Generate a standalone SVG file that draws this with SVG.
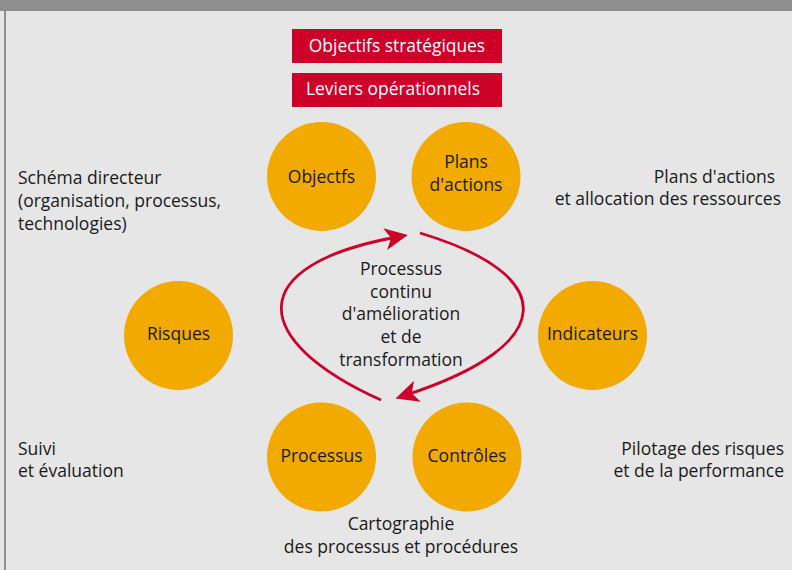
<svg xmlns="http://www.w3.org/2000/svg" width="792" height="570" viewBox="0 0 792 570">
  <style>
    .lbl { font-family: "Open Sans", "Noto Sans", sans-serif; font-size: 17.5px; fill: #1a1a1a; }
    .mid { text-anchor: middle; }
    .bar { fill: #cc0029; }
    .bar-t { font-family: "Open Sans", "Noto Sans", sans-serif; font-size: 17.4px; fill: #ffffff; text-anchor: middle; }
    .node { fill: #f2a900; }
    .loop { fill: none; stroke: #cc0029; stroke-width: 2.8; }
  </style>
  <defs>
    <marker id="head" markerUnits="userSpaceOnUse" markerWidth="24" markerHeight="22" viewBox="0 0 24 22" refX="12" refY="11" orient="auto">
      <path d="M0,0 L23,11 L0,22 L6,11 Z" fill="#cc0029"/>
    </marker>
  </defs>

  <!-- frame -->
  <rect x="0" y="0" width="792" height="570" fill="#e6e6e6"/>
  <rect x="0" y="0" width="792" height="11" fill="#8f8f8f"/>
  <rect x="4" y="0" width="2" height="570" fill="#8f8f8f"/>
  <rect x="0" y="0" width="4" height="11" fill="#8f8f8f"/>

  <!-- headers -->
  <g id="objectifs-strategiques">
    <rect class="bar" x="292" y="29" width="210" height="34"/>
    <text class="bar-t" x="397" y="52">Objectifs stratégiques</text>
  </g>
  <g id="leviers-operationnels">
    <rect class="bar" x="292" y="73" width="210" height="34"/>
    <text class="bar-t" x="393" y="95">Leviers opérationnels</text>
  </g>

  <!-- nodes -->
  <g id="objectifs">
    <circle class="node" cx="321.5" cy="176.5" r="54.5"/>
    <text class="lbl mid" x="321.5" y="183">Objectfs</text>
  </g>
  <g id="plans">
    <circle class="node" cx="466" cy="176.5" r="54.5"/>
    <text class="lbl mid" x="466" y="168">Plans</text>
    <text class="lbl mid" x="466" y="191">d'actions</text>
  </g>
  <g id="risques">
    <circle class="node" cx="178.5" cy="335.5" r="54.5"/>
    <text class="lbl mid" x="178.5" y="340">Risques</text>
  </g>
  <g id="indicateurs">
    <circle class="node" cx="592.5" cy="335.5" r="54.5"/>
    <text class="lbl mid" x="592.5" y="340">Indicateurs</text>
  </g>
  <g id="processus">
    <circle class="node" cx="321.5" cy="457" r="54.5"/>
    <text class="lbl mid" x="321.5" y="462">Processus</text>
  </g>
  <g id="controles">
    <circle class="node" cx="467" cy="457" r="54.5"/>
    <text class="lbl mid" x="467" y="462">Contrôles</text>
  </g>

  <!-- improvement loop -->
  <g id="connectors">
    <path class="loop" d="M381,400 C248,340 243,265 397,237" marker-end="url(#head)"/>
    <path class="loop" d="M420,233 C560,275 560,345 406,395" marker-end="url(#head)"/>
  </g>

  <g id="centre">
    <text class="lbl mid" x="401" y="275">Processus</text>
    <text class="lbl mid" x="401" y="298">continu</text>
    <text class="lbl mid" x="401" y="320">d'amélioration</text>
    <text class="lbl mid" x="401" y="343">et de</text>
    <text class="lbl mid" x="401" y="366">transformation</text>
  </g>

  <!-- annotations -->
  <g id="schema-directeur">
    <text class="lbl" x="18" y="184">Schéma directeur</text>
    <text class="lbl" x="18" y="207">(organisation, processus,</text>
    <text class="lbl" x="18" y="230">technologies)</text>
  </g>
  <g id="allocation">
    <text class="lbl" x="775" y="183" text-anchor="end">Plans d'actions</text>
    <text class="lbl" x="781" y="205" text-anchor="end">et allocation des ressources</text>
  </g>
  <g id="suivi">
    <text class="lbl" x="18" y="455">Suivi</text>
    <text class="lbl" x="18" y="477">et évaluation</text>
  </g>
  <g id="pilotage">
    <text class="lbl" x="784" y="455" text-anchor="end">Pilotage des risques</text>
    <text class="lbl" x="784" y="477" text-anchor="end">et de la performance</text>
  </g>
  <g id="cartographie">
    <text class="lbl mid" x="401" y="530">Cartographie</text>
    <text class="lbl mid" x="401" y="553">des processus et procédures</text>
  </g>
</svg>
